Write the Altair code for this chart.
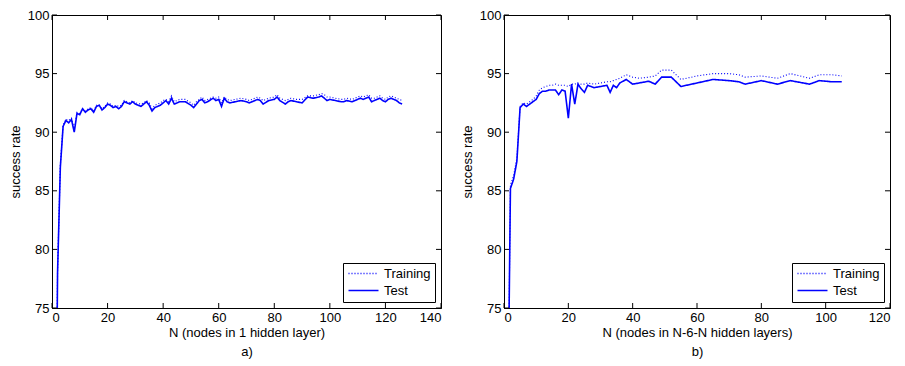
import altair as alt
import pandas as pd

FONT = "Liberation Sans"

# ---------------- data ----------------
left_n = [1, 2, 3, 4, 5, 6, 7, 8, 9, 10, 11, 12, 13, 14, 15, 16, 17, 18, 19, 20,
          21, 22, 23, 24, 25, 26, 27, 28, 29, 30, 32, 33, 34, 35, 36, 37, 38, 39, 40,
          41, 42, 43, 44, 45, 46, 48, 50, 51, 52, 53, 54, 55, 56, 58, 59, 60, 61, 62,
          63, 64, 66, 68, 70, 71, 72, 74, 75, 76, 78, 80, 81, 82, 84, 85, 86, 88, 90,
          92, 94, 96, 97, 98, 99, 100, 102, 104, 105, 106, 108, 110, 111, 112, 114,
          115, 116, 118, 119, 120, 121, 122, 123, 124, 125, 126]
left_test = [50.0, 78.0, 87.0, 90.5, 91.0, 90.8, 91.1, 90.0, 91.6, 91.5, 92.0, 91.7,
             91.9, 92.0, 91.7, 92.2, 92.3, 91.9, 92.1, 92.4, 92.3, 92.1, 92.2, 92.0,
             92.2, 92.6, 92.5, 92.4, 92.6, 92.4, 92.2, 92.4, 92.6, 92.3, 91.8, 92.1,
             92.2, 92.3, 92.5, 92.7, 92.4, 92.9, 92.4, 92.5, 92.6, 92.6, 92.3, 92.1,
             92.4, 92.7, 92.8, 92.5, 92.6, 92.9, 92.7, 92.8, 92.2, 92.9, 92.6, 92.5,
             92.6, 92.7, 92.6, 92.5, 92.6, 92.8, 92.7, 92.4, 92.7, 92.8, 93.0, 92.7,
             92.4, 92.6, 92.7, 92.6, 92.5, 93.0, 92.9, 93.0, 93.1, 92.9, 92.7, 92.8,
             92.7, 92.6, 92.6, 92.7, 92.6, 92.8, 92.9, 92.8, 93.0, 92.6, 92.7, 92.9,
             92.7, 92.6, 92.8, 92.9, 92.8, 92.7, 92.5, 92.4]
left_train = [50.0, 78.2, 87.2, 90.6, 91.1, 91.0, 91.2, 90.3, 91.7, 91.6, 92.0, 91.8,
              92.0, 92.1, 91.8, 92.3, 92.3, 92.0, 92.2, 92.5, 92.4, 92.2, 92.3, 92.2,
              92.3, 92.7, 92.6, 92.5, 92.7, 92.5, 92.4, 92.5, 92.7, 92.5, 92.0, 92.3,
              92.4, 92.5, 92.7, 92.8, 92.6, 93.1, 92.6, 92.7, 92.8, 92.8, 92.5, 92.3,
              92.6, 92.8, 93.0, 92.7, 92.8, 93.0, 92.9, 93.0, 92.5, 93.0, 92.8, 92.7,
              92.8, 92.9, 92.8, 92.7, 92.8, 93.0, 92.9, 92.7, 92.9, 93.0, 93.2, 92.9,
              92.7, 92.8, 92.9, 92.8, 92.8, 93.1, 93.1, 93.2, 93.3, 93.2, 93.0, 93.0,
              92.9, 92.8, 92.8, 92.9, 92.8, 93.0, 93.1, 93.0, 93.2, 92.9, 92.9, 93.1,
              92.9, 92.8, 93.0, 93.1, 93.0, 92.9, 92.8, 92.7]

right_n = [1, 2, 3, 4, 5, 6, 7, 8, 9, 10, 11, 12, 13, 14, 15, 16, 17, 18, 19, 20,
           21, 22, 23, 24, 25, 26, 28, 30, 32, 33, 34, 35, 36, 38, 40, 42, 45, 47,
           49, 52, 55, 60, 65, 70, 73, 75, 80, 85, 89, 95, 98, 102, 105]
right_test = [60.0, 85.2, 86.0, 87.5, 92.1, 92.4, 92.2, 92.4, 92.6, 92.8, 93.3, 93.5,
              93.5, 93.6, 93.6, 93.6, 93.2, 93.6, 93.5, 91.2, 94.1, 92.4, 94.1, 93.7,
              93.4, 94.0, 93.8, 93.9, 94.0, 93.4, 94.0, 93.8, 94.2, 94.5, 94.1, 94.2,
              94.35, 94.1, 94.7, 94.7, 93.9, 94.2, 94.5, 94.4, 94.3, 94.1, 94.4, 94.1,
              94.4, 94.1, 94.4, 94.3, 94.3]
right_train = [60.0, 85.5, 86.3, 87.8, 92.2, 92.5, 92.4, 92.6, 92.8, 93.1, 93.6, 93.8,
               93.9, 94.0, 94.0, 94.1, 94.0, 94.0, 94.0, 93.9, 94.1, 94.1, 94.2, 94.1,
               94.1, 94.2, 94.1, 94.2, 94.3, 94.3, 94.4, 94.5, 94.6, 94.9, 94.7, 94.6,
               94.7, 94.8, 95.3, 95.3, 94.5, 94.8, 95.0, 95.0, 94.9, 94.7, 94.8, 94.6,
               95.0, 94.6, 94.9, 94.9, 94.8]

left_xticks = [0, 20, 40, 60, 80, 100, 120, 140]
right_xticks = [0, 20, 40, 60, 80, 100, 120]
yticks = [75, 80, 85, 90, 95, 100]
series_names = ["Training", "Test"]

H = 293
TICK = 5


def panel(n, train, test, xmax, xticks, xtitle, width):
    df = pd.DataFrame({
        "N": list(n) + list(n),
        "rate": list(train) + list(test),
        "series": [series_names[0]] * len(n) + [series_names[1]] * len(n),
    })
    xscale = alt.Scale(domain=[0, xmax], nice=False, zero=False)
    yscale = alt.Scale(domain=[75, 100], nice=False, zero=False)
    legend = alt.Legend(title=None, orient="bottom-right")
    color = alt.Color("series:N", scale=alt.Scale(domain=series_names,
                                                   range=["#0000ff", "#0000ff"]),
                      legend=legend)
    dash = alt.StrokeDash("series:N", scale=alt.Scale(domain=series_names,
                                                      range=[[1, 2], [1, 0]]),
                          legend=legend)
    xaxis = alt.Axis(values=xticks, tickSize=0, labelPadding=3, grid=False,
                     title=xtitle, titlePadding=2, titleLineHeight=19)
    yaxis = alt.Axis(values=yticks, tickSize=0, labelPadding=3, grid=False,
                     title="success rate", titlePadding=5)

    base = alt.Chart(df)
    train_line = base.transform_filter(alt.datum.series == "Training").mark_line(
        clip=True, strokeWidth=1.1).encode(
        x=alt.X("N:Q", scale=xscale, axis=xaxis),
        y=alt.Y("rate:Q", scale=yscale, axis=yaxis),
        color=color, strokeDash=dash)
    test_line = base.transform_filter(alt.datum.series == "Test").mark_line(
        clip=True, strokeWidth=1.6).encode(
        x=alt.X("N:Q", scale=xscale, axis=xaxis),
        y=alt.Y("rate:Q", scale=yscale, axis=yaxis),
        color=color, strokeDash=dash)

    xt = pd.DataFrame({"t": xticks})
    yt = pd.DataFrame({"t": yticks})
    tick_style = dict(color="black", strokeWidth=1)
    bottom = alt.Chart(xt).mark_rule(**tick_style).encode(
        x=alt.X("t:Q", scale=xscale, axis=xaxis),
        y=alt.value(H), y2=alt.value(H - TICK))
    top = alt.Chart(xt).mark_rule(**tick_style).encode(
        x=alt.X("t:Q", scale=xscale, axis=xaxis),
        y=alt.value(0), y2=alt.value(TICK))
    left = alt.Chart(yt).mark_rule(**tick_style).encode(
        y=alt.Y("t:Q", scale=yscale, axis=yaxis),
        x=alt.value(0), x2=alt.value(TICK))
    right = alt.Chart(yt).mark_rule(**tick_style).encode(
        y=alt.Y("t:Q", scale=yscale, axis=yaxis),
        x=alt.value(width), x2=alt.value(width - TICK))

    return alt.layer(train_line, test_line, bottom, top, left, right).properties(
        width=width, height=H)


pa = panel(left_n, left_train, left_test, 140, left_xticks,
           ["N (nodes in 1 hidden layer)", "a)"], 389)
pb = panel(right_n, right_train, right_test, 120, right_xticks,
           ["N (nodes in N-6-N hidden layers)", "b)"], 386)

chart = alt.hconcat(pa, pb, spacing=18).resolve_scale(
    color="independent", strokeDash="independent"
).resolve_legend(
    color="independent", strokeDash="independent"
).properties(
    padding={"left": 0, "top": 0, "right": 0, "bottom": 0},
    background="white",
).configure_view(
    stroke="black", strokeWidth=1
).configure_axis(
    labelFont=FONT, labelFontSize=13, labelColor="black",
    titleFont=FONT, titleFontSize=13, titleColor="black", titleFontWeight="normal",
    domainColor="black", domainWidth=1,
).configure_legend(
    labelFont=FONT, labelFontSize=13, labelColor="black",
    fillColor="white", strokeColor="black", padding=4, offset=6,
    symbolType="M-1,0H5", symbolSize=100, symbolStrokeWidth=1.5,
    rowPadding=3, labelOffset=24,
)

chart.save("out.html", embed_options={"renderer": "svg", "actions": False})
